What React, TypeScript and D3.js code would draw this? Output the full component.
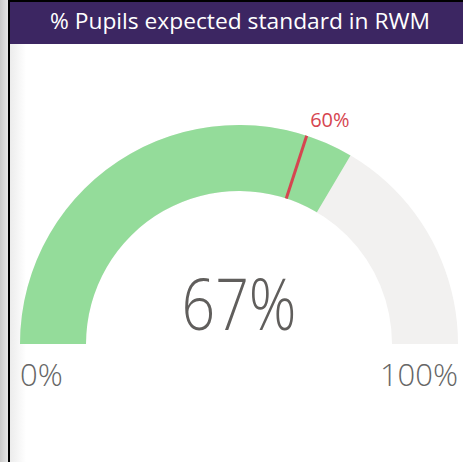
import React from "react";
import * as d3 from "d3";

const title = "% Pupils expected standard in RWM";
const gaugeMin = [0];
const gaugeMax = [100];
const gaugeValue = [67];
const gaugeTarget = [60];
const minLabel = ["0%"];
const maxLabel = ["100%"];
const valueLabel = ["67%"];
const targetLabel = ["60%"];

const W = 463;
const H = 462;

export default function App() {
  const cx = 239;
  const cy = 344;
  const rOuter = 219;
  const rInner = 153;
  const angle = d3
    .scaleLinear()
    .domain([gaugeMin[0], gaugeMax[0]])
    .range([-Math.PI / 2, Math.PI / 2]);
  const arc = d3.arc<any>().innerRadius(rInner).outerRadius(rOuter);
  const track = arc({ startAngle: angle(gaugeMin[0]), endAngle: angle(gaugeMax[0]) } as any) || "";
  const fill = arc({ startAngle: angle(gaugeMin[0]), endAngle: angle(gaugeValue[0]) } as any) || "";
  const ta = angle(gaugeTarget[0]);
  const tx1 = Math.sin(ta) * rInner;
  const ty1 = -Math.cos(ta) * rInner;
  const tx2 = Math.sin(ta) * rOuter;
  const ty2 = -Math.cos(ta) * rOuter;
  const font = "'Segoe UI', 'Open Sans', 'Noto Sans', sans-serif";
  return (
    <div style={{ position: "absolute", left: 0, top: 0, width: W, height: H }}>
      <svg width={W} height={H} style={{ display: "block" }}>
        <defs>
          <linearGradient id="lg" x1="0" x2="1" y1="0" y2="0">
            <stop offset="0" stopColor="#c9c9c9" />
            <stop offset="1" stopColor="#e6e6e6" />
          </linearGradient>
          <linearGradient id="lg2" x1="0" x2="1" y1="0" y2="0">
            <stop offset="0" stopColor="#ececec" />
            <stop offset="1" stopColor="#ffffff" />
          </linearGradient>
        </defs>
        <rect x={0} y={0} width={W} height={H} fill="#ffffff" />
        <rect x={0} y={0} width={8} height={H} fill="url(#lg)" />
        <rect x={10} y={44} width={16} height={H - 44} fill="url(#lg2)" />
        <rect x={10} y={2} width={W - 10} height={42} fill="#3c2662" />
        <rect x={8} y={0} width={W - 8} height={2} fill="#000" />
        <rect x={8} y={0} width={2} height={H} fill="#000" />
        <text
          x={240}
          y={29}
          textAnchor="middle"
          fill="#ffffff"
          fontFamily={font}
          fontSize={22.5}
          textLength={380}
          lengthAdjust="spacingAndGlyphs"
        >
          {title}
        </text>
        <g transform={`translate(${cx},${cy})`}>
          <path d={track} fill="#f2f1f0" />
          <path d={fill} fill="#94dc9a" />
          <line x1={tx1} y1={ty1} x2={tx2} y2={ty2} stroke="#d64550" strokeWidth={3} />
          <text
            x={Math.sin(ta) * (rOuter + 12) + 19.5}
            y={-Math.cos(ta) * (rOuter + 12) + 3}
            textAnchor="middle"
            fill="#d64550"
            fontFamily={font}
            fontSize={20}
          >
            {targetLabel[0]}
          </text>
          <text
            x={0}
            y={-14}
            textAnchor="middle"
            fill="#605e5c"
            fontFamily={font}
            fontWeight={300}
            fontSize={72}
            textLength={115}
            lengthAdjust="spacingAndGlyphs"
          >
            {valueLabel[0]}
          </text>
          <text
            x={-rOuter}
            y={42}
            textAnchor="start"
            fill="#666666"
            fontFamily={font}
            fontWeight={300}
            fontSize={31}
          >
            {minLabel[0]}
          </text>
          <text
            x={rOuter}
            y={42}
            textAnchor="end"
            fill="#666666"
            fontFamily={font}
            fontWeight={300}
            fontSize={31}
          >
            {maxLabel[0]}
          </text>
        </g>
      </svg>
    </div>
  );
}
